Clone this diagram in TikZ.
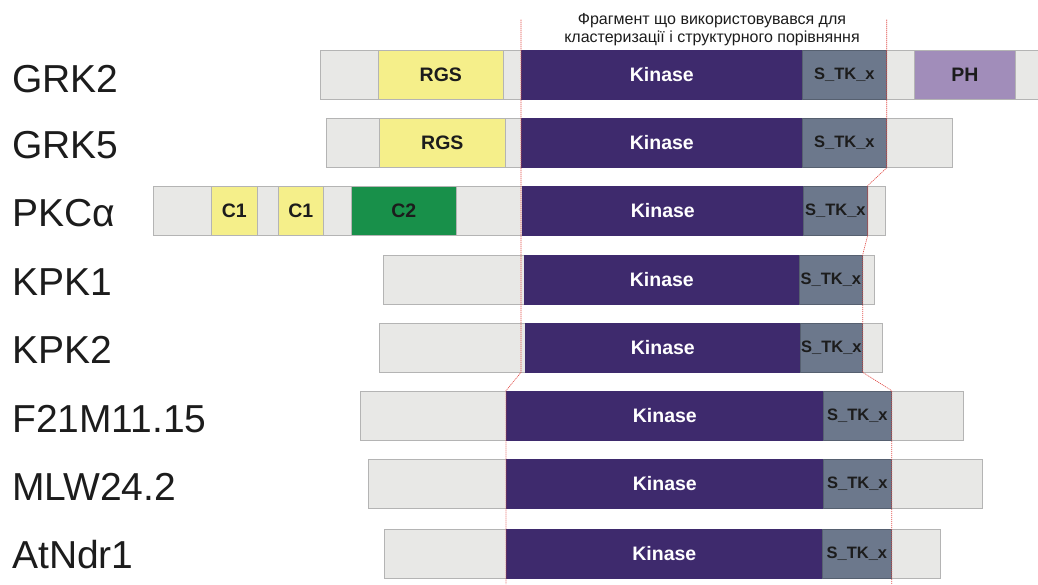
\documentclass[tikz,border=0pt]{standalone}
\usepackage{fontspec}
\setmainfont{Liberation Sans}

\definecolor{bargray}{HTML}{E8E8E6}
\definecolor{baredge}{HTML}{B4B4B4}
\definecolor{rgsyellow}{HTML}{F5EF8A}
\definecolor{kinpurple}{HTML}{3E2A6D}
\definecolor{stkslate}{HTML}{6C788C}
\definecolor{ctwogreen}{HTML}{18904A}
\definecolor{phlilac}{HTML}{A18DBA}
\definecolor{fragred}{HTML}{E04A45}
\definecolor{inkgray}{HTML}{1C1C1C}

\begin{document}
\begin{tikzpicture}[x=1pt,y=-1pt,
	seg/.style={draw=baredge, line width=0.7pt, minimum height=49pt, inner sep=0pt,
		anchor=west, text=inkgray, font=\fontsize{19.5}{19.5}\selectfont\bfseries},
	bar/.style={seg, fill=bargray},
	rgs/.style={seg, fill=rgsyellow},
	cone/.style={seg, fill=rgsyellow},
	ctwo/.style={seg, fill=ctwogreen},
	ph/.style={seg, fill=phlilac},
	kin/.style={seg, fill=kinpurple, draw=kinpurple, text=white},
	stk/.style={seg, fill=stkslate, draw=stkslate!80!black, font=\fontsize{16.5}{17}\selectfont\bfseries},
	protlabel/.style={anchor=base west, inner sep=0pt, text=inkgray, font=\fontsize{39}{39}\selectfont},
	fragline/.style={draw=fragred, line width=0.6pt, dash pattern=on 1.2pt off 0.8pt}]

\useasboundingbox (0,0) rectangle (1038,584);

% one domain box: name, x from, x to, row y, style, text
\newcommand{\domain}[6]{%
	\pgfmathsetmacro{\segw}{#3-#2}
	\node[#5, minimum width=\segw pt] (#1) at (#2,#4) {#6};
}

% fragment used for clustering
\node[align=center, text=inkgray, font=\fontsize{16}{18}\selectfont] (frag) at (712,30)
	{Фрагмент що використовувався для\\кластеризації і структурного порівняння};

% protein names
\node[protlabel] (lbl-grk2) at (12,92) {GRK2};
\node[protlabel] (lbl-grk5) at (12,158) {GRK5};
\node[protlabel] (lbl-pkc) at (12,226) {PKCα};
\node[protlabel] (lbl-kpk1) at (12,295) {KPK1};
\node[protlabel] (lbl-kpk2) at (12,363) {KPK2};
\node[protlabel] (lbl-f21) at (12,432) {F21M11.15};
\node[protlabel] (lbl-mlw) at (12,500) {MLW24.2};
\node[protlabel] (lbl-atndr) at (12,568) {AtNdr1};

% GRK2
\domain{grk2}{320}{1045}{74.5}{bar}{}
\domain{grk2-rgs}{378}{503}{74.5}{rgs}{RGS}
\domain{grk2-kin}{521}{802}{74.5}{kin}{Kinase}
\domain{grk2-stk}{802}{886}{74.5}{stk}{S\_TK\_x}
\domain{grk2-ph}{914}{1015}{74.5}{ph}{PH}

% GRK5
\domain{grk5}{326}{952}{143}{bar}{}
\domain{grk5-rgs}{379}{505}{143}{rgs}{RGS}
\domain{grk5-kin}{521}{802}{143}{kin}{Kinase}
\domain{grk5-stk}{802}{886}{143}{stk}{S\_TK\_x}

% PKC alpha
\domain{pkc}{153}{885}{210.5}{bar}{}
\domain{pkc-cone1}{211}{257}{210.5}{cone}{C1}
\domain{pkc-cone2}{278}{323}{210.5}{cone}{C1}
\domain{pkc-ctwo}{351}{456}{210.5}{ctwo}{C2}
\domain{pkc-kin}{522}{803}{210.5}{kin}{Kinase}
\domain{pkc-stk}{803}{867}{210.5}{stk}{S\_TK\_x}

% KPK1, KPK2
\domain{kpk1}{383}{874}{279.5}{bar}{}
\domain{kpk1-kin}{524}{799}{279.5}{kin}{Kinase}
\domain{kpk1-stk}{799}{862}{279.5}{stk}{S\_TK\_x}
\domain{kpk2}{379}{882}{347.5}{bar}{}
\domain{kpk2-kin}{525}{800}{347.5}{kin}{Kinase}
\domain{kpk2-stk}{800}{862}{347.5}{stk}{S\_TK\_x}

% plant kinases
\domain{f21}{360}{963}{415.5}{bar}{}
\domain{f21-kin}{506}{823}{415.5}{kin}{Kinase}
\domain{f21-stk}{823}{891}{415.5}{stk}{S\_TK\_x}
\domain{mlw}{368}{982}{483.5}{bar}{}
\domain{mlw-kin}{506}{823}{483.5}{kin}{Kinase}
\domain{mlw-stk}{823}{891}{483.5}{stk}{S\_TK\_x}
\domain{atndr}{384}{940}{553.5}{bar}{}
\domain{atndr-kin}{506}{822}{553.5}{kin}{Kinase}
\domain{atndr-stk}{822}{891}{553.5}{stk}{S\_TK\_x}

% borders of the fragment
\draw[fragline] ([yshift=30pt]grk2-kin.north west) -- (grk2-kin.west |- kpk2-kin.south)
	-- (f21-kin.north west) -- ([yshift=-6pt]atndr-kin.south west);
\draw[fragline] ([yshift=30pt]grk2-stk.north east) -- (grk5-stk.south east)
	-- (pkc-stk.north east) -- (pkc-stk.south east) -- (kpk1-stk.north east)
	-- (kpk2-stk.south east) -- (f21-stk.north east) -- ([yshift=-6pt]atndr-stk.south east);
\end{tikzpicture}
\end{document}
